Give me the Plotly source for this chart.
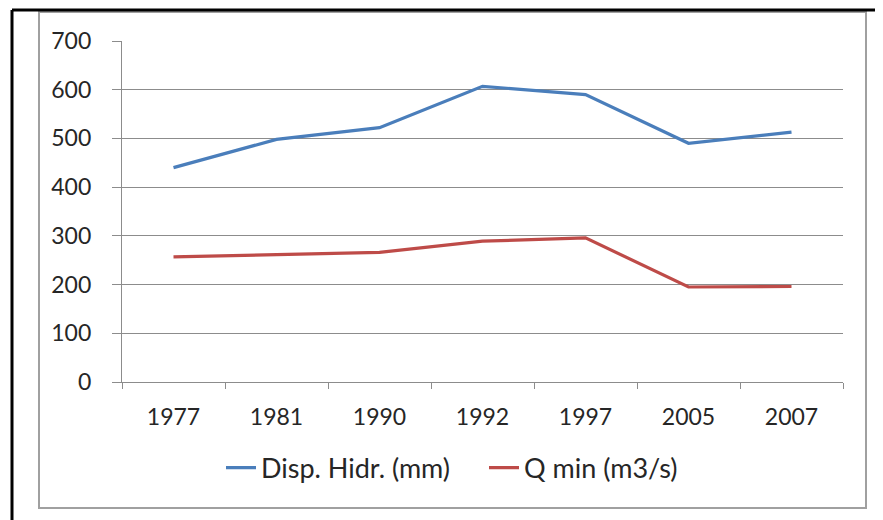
import plotly.graph_objects as go

years = ["1977", "1981", "1990", "1992", "1997", "2005", "2007"]
disp_hidr = [440, 498, 522, 607, 590, 490, 513]
q_min = [257, 261, 266, 289, 296, 195, 196]
y_ticks = [0, 100, 200, 300, 400, 500, 600, 700]

# page body adds an 8px offset; figure coordinates are shifted accordingly
OFF = 8
W, H = 883 - OFF, 520 - OFF
L, R, T, B = 122 - OFF, 883 - 843, 41 - OFF, 520 - 382

def px(x):
    return (x - OFF - L) / (W - L - R)

def py(y):
    return 1 - (y - OFF - T) / (H - T - B)

fig = go.Figure()
fig.add_trace(go.Scatter(x=years, y=disp_hidr, mode="lines", name="Disp. Hidr. (mm)",
                         line=dict(color="#4A7EBB", width=3.2)))
fig.add_trace(go.Scatter(x=years, y=q_min, mode="lines", name="Q min (m3/s)",
                         line=dict(color="#BE4B48", width=3.2)))

font = dict(family="Lato, Open Sans, sans-serif", size=23, color="#262626")
lfont = dict(family="Lato, Open Sans, sans-serif", size=27, color="#262626")

fig.update_layout(
    width=W, height=H,
    margin=dict(l=L, r=R, t=T, b=B),
    paper_bgcolor="white", plot_bgcolor="white",
    font=font,
    showlegend=True,
    legend=dict(orientation="h", x=px(221), xanchor="left", y=py(468), yanchor="middle",
                font=lfont, itemwidth=30, bgcolor="rgba(0,0,0,0)", traceorder="normal",
                entrywidth=218),
    xaxis=dict(type="category", categoryorder="array", categoryarray=years,
               range=[-0.5, len(years) - 0.5],
               showline=True, linecolor="#8C8C8C", linewidth=1.3,
               ticks="outside", tickson="boundaries", ticklen=6, tickcolor="#8C8C8C",
               tickwidth=1.3, showgrid=False, ticklabelstandoff=14, tickfont=font,
               zeroline=False),
    yaxis=dict(range=[0, 700], tickvals=y_ticks, showline=True, linecolor="#8C8C8C",
               linewidth=1.3, ticks="outside", ticklen=9, tickcolor="#8C8C8C", tickwidth=1.3,
               showgrid=True, gridcolor="#8C8C8C", gridwidth=1.3, zeroline=False,
               ticklabelstandoff=16, tickfont=font),
    shapes=[
        dict(type="rect", xref="paper", yref="paper", x0=px(39), x1=px(866), y0=py(12), y1=py(508),
             line=dict(color="#A0A0A0", width=2), layer="below"),
        dict(type="line", xref="paper", yref="paper", x0=px(12), x1=px(883), y0=py(10), y1=py(10),
             line=dict(color="black", width=3)),
        dict(type="line", xref="paper", yref="paper", x0=px(12), x1=px(12), y0=py(10), y1=py(520),
             line=dict(color="black", width=3)),
    ],
)

fig.write_html("out.html")
